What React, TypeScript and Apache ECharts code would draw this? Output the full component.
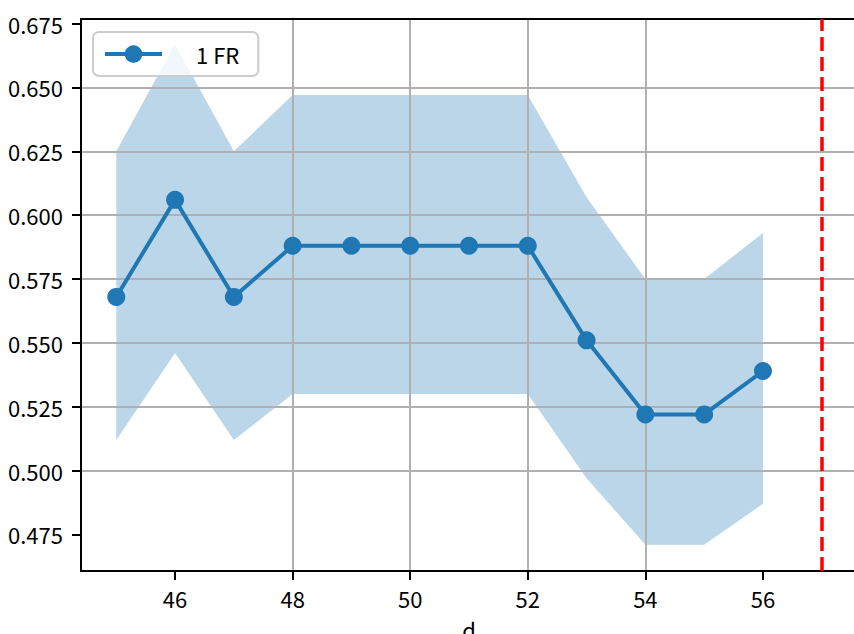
import React, { useEffect, useRef } from "react";
import * as echarts from "echarts";

const xs = [45, 46, 47, 48, 49, 50, 51, 52, 53, 54, 55, 56];
const meanValues = [0.568, 0.606, 0.568, 0.588, 0.588, 0.588, 0.588, 0.588, 0.551, 0.522, 0.522, 0.539];
const upperValues = [0.625, 0.667, 0.625, 0.647, 0.647, 0.647, 0.647, 0.647, 0.607, 0.575, 0.575, 0.593];
const lowerValues = [0.512, 0.546, 0.512, 0.530, 0.530, 0.530, 0.530, 0.530, 0.497, 0.471, 0.471, 0.487];
const thresholdX = 57;
const xTickValues = [46, 48, 50, 52, 54, 56];
const yTickValues = [0.475, 0.5, 0.525, 0.55, 0.575, 0.6, 0.625, 0.65, 0.675];
const seriesName = "1 FR";
const xAxisName = "d";

const X_MIN = 44.4;
const X_MAX = 57.6;
const Y_MIN = 0.4607;
const Y_MAX = 0.6768;

const FONT = "'Noto Sans CJK JP', 'Noto Sans', sans-serif";
const BLUE = "#1f77b4";

export default function App() {
  const ref = useRef<HTMLDivElement>(null);
  useEffect(() => {
    if (!ref.current) return;
    const chart = echarts.init(ref.current, undefined, { renderer: "svg" });
    const bandData = xs.map((x, i) => [x, lowerValues[i], upperValues[i]]);
    const meanData = xs.map((x, i) => [x, meanValues[i]]);
    chart.setOption({
      animation: false,
      textStyle: { fontFamily: FONT },
      grid: { left: 81, top: 19, right: 1, bottom: 63, containLabel: false, outerBoundsMode: "none" },
      legend: {
        data: [seriesName],
        left: 93,
        top: 32,
        orient: "vertical",
        itemWidth: 57,
        itemHeight: 22,
        padding: [11, 19, 11, 10],
        borderColor: "#cccccc",
        borderWidth: 2,
        borderRadius: 6,
        backgroundColor: "rgba(255,255,255,0.8)",
        lineStyle: { width: 4, color: BLUE },
        textStyle: { fontFamily: FONT, fontSize: 22, color: "#000", padding: [0, 0, 0, 29] },
        z: 10,
      },
      xAxis: [
        {
          type: "value",
          min: X_MIN,
          max: X_MAX,
          minInterval: 2,
          maxInterval: 2,
          z: 3,
          name: xAxisName,
          nameLocation: "middle",
          nameGap: 47,
          nameMoveOverlap: false,
          nameTextStyle: { fontFamily: FONT, fontSize: 22, color: "#000" },
          axisLine: { show: true, onZero: false, lineStyle: { color: "#000", width: 2 } },
          axisTick: { show: true, inside: false, length: 9, lineStyle: { color: "#000", width: 2 }, customValues: xTickValues },
          axisLabel: {
            show: true,
            margin: 16,
            fontFamily: FONT,
            fontSize: 22,
            color: "#000",
            customValues: xTickValues,
            formatter: (v: number) => String(v),
          },
          splitLine: { show: true, showMinLine: false, showMaxLine: false, lineStyle: { color: "#b0b0b0", width: 2 } },
        },
        {
          type: "value",
          position: "top",
          min: X_MIN,
          max: X_MAX,
          z: 3,
          axisLine: { show: true, onZero: false, lineStyle: { color: "#000", width: 2 } },
          axisTick: { show: false },
          axisLabel: { show: false },
          splitLine: { show: false },
        },
      ],
      yAxis: {
        type: "value",
        min: Y_MIN,
        max: Y_MAX,
        minInterval: 0.025,
        maxInterval: 0.025,
        z: 3,
        axisLine: { show: true, onZero: false, lineStyle: { color: "#000", width: 2 } },
        axisTick: { show: true, inside: false, length: 9, lineStyle: { color: "#000", width: 2 }, customValues: yTickValues },
        axisLabel: {
          show: true,
          margin: 18,
          fontFamily: FONT,
          fontSize: 22,
          color: "#000",
          customValues: yTickValues,
          formatter: (v: number) => v.toFixed(3),
        },
        splitLine: { show: true, showMinLine: false, showMaxLine: false, lineStyle: { color: "#b0b0b0", width: 2 } },
      },
      series: [
        {
          name: "band",
          type: "custom",
          xAxisIndex: 0,
          yAxisIndex: 0,
          data: bandData,
          encode: { x: 0, y: [1, 2] },
          silent: true,
          z: 1,
          renderItem: (params: any, api: any) => {
            if (params.dataIndex !== 0) return null;
            const pts: number[][] = [];
            for (let i = 0; i < xs.length; i++) pts.push(api.coord([xs[i], upperValues[i]]));
            for (let i = xs.length - 1; i >= 0; i--) pts.push(api.coord([xs[i], lowerValues[i]]));
            return {
              type: "polygon",
              shape: { points: pts },
              style: { fill: "rgba(31,119,180,0.3)", stroke: "none" },
            };
          },
        },
        {
          name: seriesName,
          type: "line",
          xAxisIndex: 0,
          data: meanData,
          symbol: "circle",
          symbolSize: 18,
          lineStyle: { color: BLUE, width: 4 },
          itemStyle: { color: BLUE },
          z: 5,
          markLine: {
            silent: true,
            symbol: ["none", "none"],
            label: { show: false },
            lineStyle: { color: "#ff0000", width: 3.5, type: [14, 6] },
            data: [{ xAxis: thresholdX }],
            z: 5,
          },
        },
      ],
    });
    return () => chart.dispose();
  }, []);
  return (
    <div style={{ position: "absolute", left: 0, top: 0, width: 854, height: 634, overflow: "hidden" }}>
      <div ref={ref} style={{ width: 858, height: 634 }} />
    </div>
  );
}
